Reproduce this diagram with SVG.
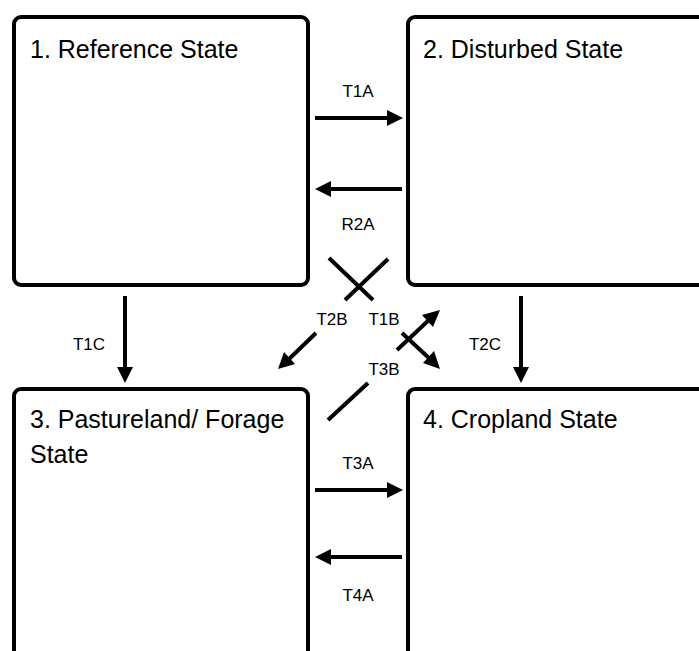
<svg xmlns="http://www.w3.org/2000/svg" width="699" height="651" viewBox="0 0 699 651">
<style>
.box{fill:#fff;stroke:#000;stroke-width:4}
.title{font-family:"Liberation Sans",Arial,sans-serif;font-size:25px;fill:#000}
.lbl{font-family:"Liberation Sans",Arial,sans-serif;font-size:17px;fill:#000;text-anchor:middle}
.ln{stroke:#000;stroke-width:4;fill:none}
.ah{fill:#000}
</style>
<rect x="0" y="0" width="699" height="651" fill="#fff"/>
<g id="node1">
<rect class="box" x="14" y="17" width="294" height="268" rx="7"/>
<text class="title" x="30" y="58">1. Reference State</text>
</g>
<g id="node2">
<rect class="box" x="408" y="17" width="320" height="268" rx="7"/>
<text class="title" x="423" y="58">2. Disturbed State</text>
</g>
<g id="node3">
<rect class="box" x="14" y="389" width="294" height="300" rx="7"/>
<text class="title" x="30" y="428">3. Pastureland/ Forage</text>
<text class="title" x="30" y="463">State</text>
</g>
<g id="node4">
<rect class="box" x="408" y="389" width="320" height="300" rx="7"/>
<text class="title" x="423" y="428">4. Cropland State</text>
</g>
<g id="connectors">
<!-- T1A -->
<line class="ln" x1="315" y1="118" x2="389" y2="118"/>
<polygon class="ah" points="403,118 387,110 387,126"/>
<!-- R2A -->
<line class="ln" x1="402" y1="189" x2="329" y2="189"/>
<polygon class="ah" points="315,189 331,181 331,197"/>
<!-- T3A -->
<line class="ln" x1="315" y1="490" x2="389" y2="490"/>
<polygon class="ah" points="403,490 387,482 387,498"/>
<!-- T4A -->
<line class="ln" x1="402" y1="557" x2="329" y2="557"/>
<polygon class="ah" points="315,557 331,549 331,565"/>
<!-- T1C -->
<line class="ln" x1="125" y1="296" x2="125" y2="370"/>
<polygon class="ah" points="125,383 117,367 133,367"/>
<!-- T2C -->
<line class="ln" x1="521" y1="296" x2="521" y2="370"/>
<polygon class="ah" points="521,383 513,367 529,367"/>
<!-- T1B -->
<line class="ln" x1="329" y1="258" x2="373" y2="300"/>
<line class="ln" x1="402" y1="333" x2="430" y2="359"/>
<polygon class="ah" points="440,369 423,363 434,351"/>
<!-- T2B -->
<line class="ln" x1="388" y1="259" x2="345" y2="300"/>
<line class="ln" x1="316" y1="333" x2="288" y2="360"/>
<polygon class="ah" points="278,369 284,352 295,364"/>
<!-- T3B -->
<line class="ln" x1="328" y1="420" x2="368" y2="383"/>
<line class="ln" x1="397" y1="350" x2="430" y2="319"/>
<polygon class="ah" points="440,310 433,327 422,315"/>
<text class="lbl" x="358" y="97">T1A</text>
<text class="lbl" x="358" y="230">R2A</text>
<text class="lbl" x="358" y="469">T3A</text>
<text class="lbl" x="358" y="601">T4A</text>
<text class="lbl" x="89" y="350">T1C</text>
<text class="lbl" x="485" y="350">T2C</text>
<text class="lbl" x="332" y="325">T2B</text>
<text class="lbl" x="384" y="325">T1B</text>
<text class="lbl" x="384" y="375">T3B</text>
</g>
</svg>
